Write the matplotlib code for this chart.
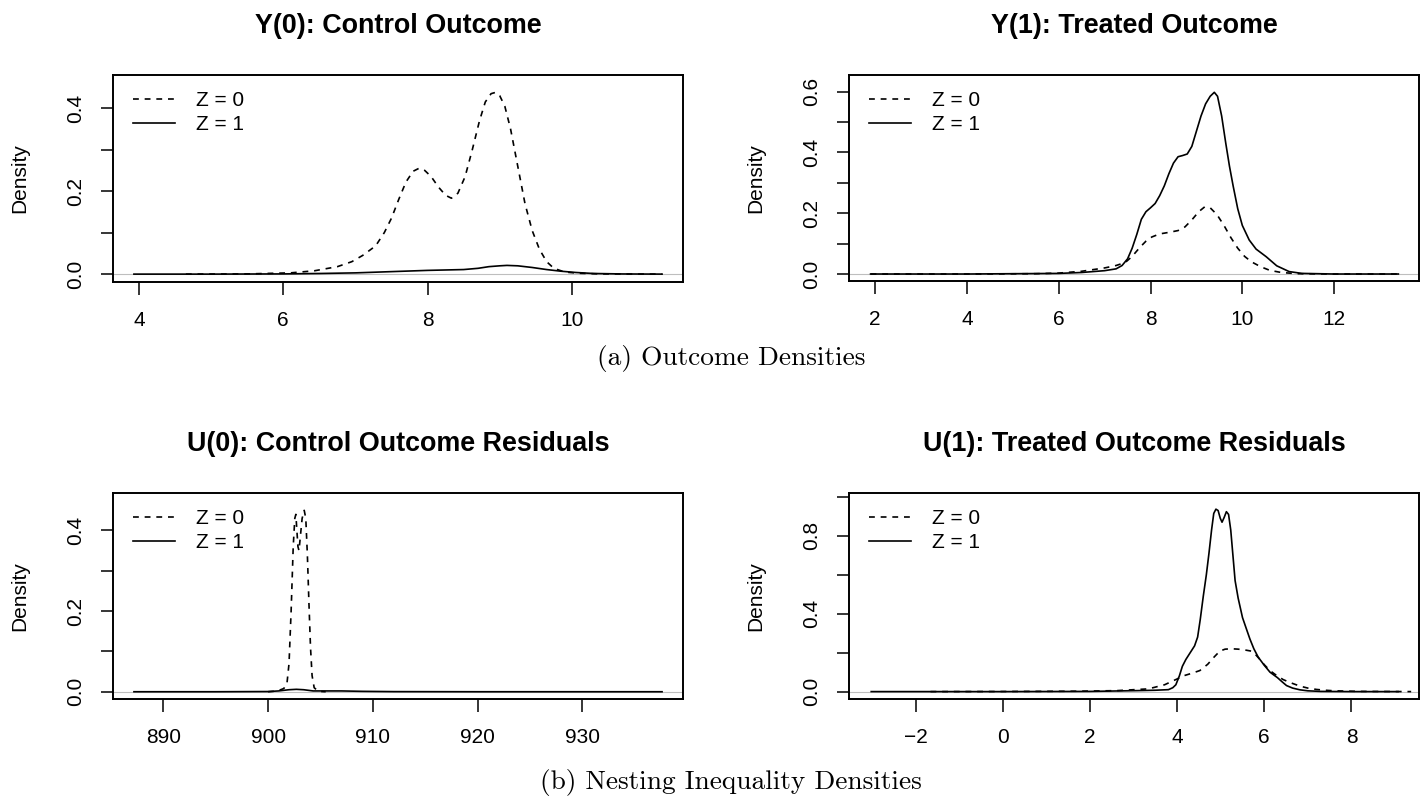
import matplotlib
matplotlib.use("Agg")
import matplotlib.pyplot as plt

plt.rcParams['font.family'] = ['Liberation Sans', 'DejaVu Sans']

# Y(0): control outcome densities
y0_z0_x = [4.65, 5.5, 6.1, 6.43, 6.75, 6.95, 7.1, 7.28, 7.4, 7.5, 7.6, 7.7, 7.8, 7.88, 7.96,
           8.05, 8.15, 8.25, 8.33, 8.42, 8.52, 8.62, 8.72, 8.8, 8.88, 8.94, 9.0, 9.07, 9.15,
           9.25, 9.35, 9.45, 9.55, 9.65, 9.75, 9.9, 10.1, 10.4, 11.25]
y0_z0_y = [0.0, 0.0005, 0.003, 0.008, 0.018, 0.03, 0.045, 0.068, 0.1, 0.135, 0.18, 0.222,
           0.248, 0.255, 0.25, 0.235, 0.21, 0.19, 0.183, 0.195, 0.235, 0.3, 0.37, 0.415,
           0.435, 0.438, 0.43, 0.405, 0.35, 0.26, 0.17, 0.105, 0.06, 0.03, 0.014, 0.005,
           0.002, 0.0005, 0.0]
y0_z1_x = [3.93, 5.0, 6.0, 6.5, 7.0, 7.5, 8.0, 8.5, 8.7, 8.85, 9.0, 9.1, 9.25, 9.45, 9.65,
           9.85, 10.05, 10.3, 10.7, 11.25]
y0_z1_y = [0.0, 0.0, 0.0005, 0.0015, 0.003, 0.006, 0.009, 0.011, 0.014, 0.018, 0.020, 0.021,
           0.020, 0.016, 0.011, 0.007, 0.004, 0.0015, 0.0004, 0.0]

# Y(1): treated outcome densities
y1_z0_x = [1.9, 4.0, 5.5, 6.0, 6.5, 7.0, 7.25, 7.45, 7.6, 7.77, 7.9, 8.03, 8.2, 8.4, 8.6,
           8.75, 8.9, 9.05, 9.18, 9.3, 9.45, 9.6, 9.75, 9.9, 10.05, 10.2, 10.4, 10.6, 10.85,
           11.2, 12.0, 13.4]
y1_z0_y = [0.0, 0.0, 0.001, 0.003, 0.009, 0.02, 0.028, 0.038, 0.058, 0.088, 0.108, 0.122,
           0.132, 0.137, 0.143, 0.155, 0.178, 0.205, 0.221, 0.218, 0.195, 0.16, 0.12, 0.085,
           0.058, 0.04, 0.024, 0.012, 0.005, 0.001, 0.0, 0.0]
y1_z1_x = [1.9, 4.0, 6.0, 6.5, 7.0, 7.25, 7.38, 7.5, 7.6, 7.7, 7.8, 7.9, 8.0, 8.1, 8.2, 8.3,
           8.4, 8.5, 8.6, 8.7, 8.8, 8.9, 9.0, 9.1, 9.2, 9.3, 9.39, 9.46, 9.55, 9.64, 9.72,
           9.8, 9.9, 10.0, 10.15, 10.3, 10.52, 10.75, 11.02, 11.3, 12.0, 13.4]
y1_z1_y = [0.0, 0.0, 0.002, 0.005, 0.011, 0.017, 0.028, 0.05, 0.085, 0.13, 0.18, 0.205,
           0.218, 0.232, 0.258, 0.29, 0.33, 0.365, 0.386, 0.39, 0.395, 0.42, 0.47, 0.52,
           0.56, 0.585, 0.598, 0.585, 0.52, 0.43, 0.355, 0.29, 0.215, 0.16, 0.112, 0.082,
           0.057, 0.027, 0.008, 0.002, 0.0, 0.0]

# U(0): control outcome residual densities
u0_z0_x = [900.0, 900.5, 901.0, 901.5, 901.8, 902.0, 902.2, 902.4, 902.55, 902.65, 902.75,
           902.85, 902.95, 903.1, 903.25, 903.45, 903.6, 903.75, 903.9, 904.05, 904.2,
           904.4, 904.8, 905.5]
u0_z0_y = [0.0, 0.001, 0.003, 0.008, 0.02, 0.07, 0.2, 0.36, 0.43, 0.44, 0.4, 0.36, 0.35,
           0.39, 0.43, 0.45, 0.43, 0.34, 0.22, 0.11, 0.04, 0.01, 0.001, 0.0]
u0_z1_x = [887.2, 895, 900, 901, 902, 902.7, 903.4, 904.3, 905.5, 907, 909, 912, 920, 937.6]
u0_z1_y = [0.0, 0.0, 0.0005, 0.002, 0.005, 0.006, 0.005, 0.002, 0.002, 0.002, 0.001, 0.0003,
           0.0, 0.0]

# U(1): treated outcome residual densities
u1_z0_x = [-1.66, 0.0, 1.71, 2.62, 3.34, 3.71, 4.0, 4.16, 4.35, 4.52, 4.7, 4.85, 4.98, 5.1,
           5.25, 5.4, 5.55, 5.7, 5.8, 5.9, 6.0, 6.13, 6.25, 6.43, 6.61, 6.82, 7.0, 7.2, 7.4,
           7.61, 8.2, 9.37]
u1_z0_y = [0.0, 0.0005, 0.002, 0.005, 0.014, 0.035, 0.065, 0.082, 0.095, 0.108, 0.14, 0.178,
           0.208, 0.218, 0.22, 0.218, 0.214, 0.208, 0.19, 0.165, 0.138, 0.108, 0.088, 0.062,
           0.045, 0.028, 0.018, 0.011, 0.007, 0.004, 0.001, 0.0]
u1_z1_x = [-3.02, 0.0, 2.0, 3.07, 3.5, 3.8, 3.9, 3.97, 4.05, 4.12, 4.2, 4.3, 4.4, 4.47, 4.53,
           4.6, 4.67, 4.73, 4.79, 4.84, 4.89, 4.94, 4.99, 5.03, 5.08, 5.13, 5.18, 5.23, 5.28,
           5.33, 5.4, 5.5, 5.6, 5.67, 5.76, 5.86, 6.0, 6.13, 6.22, 6.3, 6.4, 6.51, 6.65, 6.82,
           7.0, 7.3, 8.0, 9.07]
u1_z1_y = [0.0, 0.0, 0.001, 0.005, 0.007, 0.01, 0.02, 0.035, 0.08, 0.13, 0.165, 0.2, 0.235,
           0.28, 0.37, 0.49, 0.6, 0.71, 0.83, 0.915, 0.937, 0.93, 0.89, 0.87, 0.895, 0.924,
           0.91, 0.83, 0.7, 0.57, 0.48, 0.38, 0.315, 0.27, 0.22, 0.177, 0.135, 0.1, 0.085,
           0.072, 0.052, 0.031, 0.018, 0.009, 0.004, 0.001, 0.0, 0.0]

titles = ["Y(0): Control Outcome", "Y(1): Treated Outcome",
          "U(0): Control Outcome Residuals", "U(1): Treated Outcome Residuals"]
captions = ["(a) Outcome Densities", "(b) Nesting Inequality Densities"]
labels = ["Z = 0", "Z = 1"]

panels = [
    (y0_z0_x, y0_z0_y, y0_z1_x, y0_z1_y, (3.64, 11.54), (-0.019, 0.48), [4, 6, 8, 10], 0.4),
    (y1_z0_x, y1_z0_y, y1_z1_x, y1_z1_y, (1.43, 13.85), (-0.023, 0.655), [2, 4, 6, 8, 10, 12], 0.6),
    (u0_z0_x, u0_z0_y, u0_z1_x, u0_z1_y, (885.2, 939.6), (-0.018, 0.493), [890, 900, 910, 920, 930], 0.4),
    (u1_z0_x, u1_z0_y, u1_z1_x, u1_z1_y, (-3.53, 9.55), (-0.038, 1.02), [-2, 0, 2, 4, 6, 8], 1.0),
]

W, H = 1425, 798
fig = plt.figure(figsize=(W / 100, H / 100), dpi=100)

# axes boxes in pixels: left, top, width, height
boxes = [(113, 75, 570, 207), (849, 75, 570, 206),
         (113, 493, 570, 206), (849, 493, 570, 206)]

fs = 15
dash = (0, (3.5, 3.5))

for i, (box, p) in enumerate(zip(boxes, panels)):
    x0, y0, x1, y1, xl, yl, xt, ymax_tick = p
    l, t, w, h = box
    ax = fig.add_axes([l / W, 1 - (t + h) / H, w / W, h / H])
    ax.axhline(0, color='#BEBEBE', lw=0.8, zorder=1)
    ax.plot(x0, y0, color='black', lw=1.2, ls=dash, label=labels[0], zorder=3)
    ax.plot(x1, y1, color='black', lw=1.2, label=labels[1], zorder=2)
    ax.set_xlim(*xl)
    ax.set_ylim(*yl)

    ax.set_xticks(xt)
    ax.set_xticklabels([("\u2212" + str(-v)) if v < 0 else str(v) for v in xt])
    step = 0.1 if ymax_tick < 0.8 else 0.2
    n = int(round(ymax_tick / step))
    yt = [round(k * step, 2) for k in range(n + 1)]
    ax.set_yticks(yt)
    ax.set_yticklabels([f"{v:.1f}" if k % 2 == 0 else "" for k, v in enumerate(yt)],
                       rotation=90, va='center')
    ax.tick_params(direction='out', length=9, width=1.1, labelsize=fs, pad=12)
    ax.tick_params(axis='y', pad=11)
    for s in ax.spines.values():
        s.set_linewidth(1.4)

    ax.text(-93 / w, 0.5, "Density", rotation=90, transform=ax.transAxes,
            ha='center', va='center', fontsize=fs)
    ax.text(0.5, 1 + 49 / h, titles[i], transform=ax.transAxes, ha='center', va='center',
            fontsize=19.4, fontweight='bold')
    ax.legend(loc='upper left', bbox_to_anchor=(20 / w, 1 - 16 / h), frameon=False,
              fontsize=fs, handlelength=2.0, handletextpad=1.0, labelspacing=0.25,
              borderpad=0, borderaxespad=0)

fig.text(731 / W, 1 - 358 / H, captions[0], ha='center', va='center', fontsize=19.7,
         family=['cmr10', 'DejaVu Serif'])
fig.text(731 / W, 1 - 782 / H, captions[1], ha='center', va='center', fontsize=19.7,
         family=['cmr10', 'DejaVu Serif'])

fig.savefig("out.png", dpi=100)
